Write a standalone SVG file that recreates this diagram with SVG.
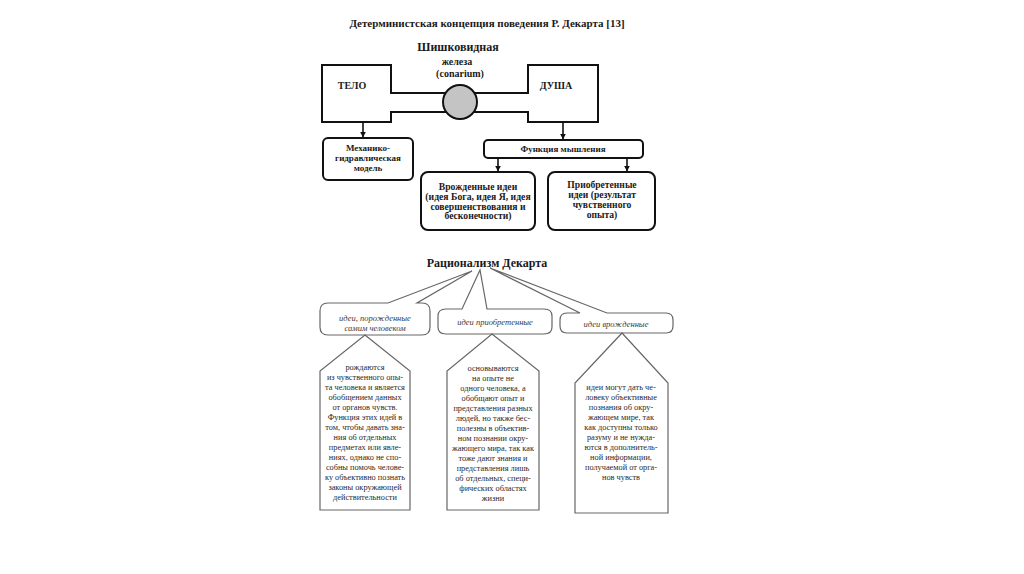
<svg xmlns="http://www.w3.org/2000/svg" width="1024" height="574" viewBox="0 0 1024 574">
<defs>
<marker id="ah" viewBox="0 0 10 10" refX="9" refY="5" markerWidth="6" markerHeight="6" orient="auto" markerUnits="userSpaceOnUse">
<path d="M0,0 L10,5 L0,10 Z" fill="#111"/>
</marker>
<style>
.b{font-family:"Liberation Serif","Times New Roman",serif;font-weight:bold;fill:#1a1a1a;text-anchor:middle}
.r{font-family:"Liberation Serif","Times New Roman",serif;fill:#2a2a2a;text-anchor:middle;font-size:8.3px}
.i{font-family:"Liberation Serif","Times New Roman",serif;font-style:italic;fill:#3a3a3a;text-anchor:middle;font-size:8.5px}
.box{fill:#fff;stroke:#111;stroke-width:2}
.con{fill:none;stroke:#111;stroke-width:1.6}
.gb{fill:#fff;stroke:#666;stroke-width:1.2}
</style>
</defs>
<rect width="1024" height="574" fill="#fff"/>

<text class="b" x="487" y="27" font-size="11">Детерминистская концепция поведения Р. Декарта [13]</text>

<g id="conarium-label">
<text class="b" x="458" y="51" font-size="12">Шишковидная</text>
<text class="b" x="457" y="65" font-size="10">железа</text>
<text class="b" x="460" y="77" font-size="10">(conarium)</text>
</g>

<g id="telo">
<path class="box" d="M446,93 L391,93 L391,65 L322,65 L322,122 L391,122 L391,112 L446,112"/>
<text class="b" x="352" y="89" font-size="10">ТЕЛО</text>
</g>
<g id="dusha">
<path class="box" d="M474,93 L528,93 L528,65 L598,65 L598,122 L528,122 L528,112 L474,112"/>
<text class="b" x="556" y="89" font-size="10">ДУША</text>
</g>
<g id="conarium">
<circle cx="460" cy="102" r="17" fill="#c4c4c4" stroke="#111" stroke-width="2"/>
</g>

<g id="mechanic">
<rect class="box" x="323" y="138" width="90" height="42" rx="5"/>
<text class="b" x="368" y="151" font-size="9">Механико-</text>
<text class="b" x="368" y="161" font-size="9">гидравлическая</text>
<text class="b" x="368" y="171" font-size="9">модель</text>
</g>
<g id="thinking">
<rect class="box" x="484" y="140" width="159" height="18" rx="4"/>
<text class="b" x="563" y="152" font-size="9">Функция мышления</text>
</g>
<g id="innate">
<rect class="box" x="421" y="172" width="114" height="58" rx="7"/>
<text class="b" x="478" y="190" font-size="9.7">Врожденные идеи</text>
<text class="b" x="478" y="200" font-size="9.7">(идея Бога, идея Я, идея</text>
<text class="b" x="478" y="209.5" font-size="9.7">совершенствования и</text>
<text class="b" x="478" y="219" font-size="9.7">бесконечности)</text>
</g>
<g id="acquired">
<rect class="box" x="548" y="172" width="107" height="58" rx="7"/>
<text class="b" x="602" y="188" font-size="9.6">Приобретенные</text>
<text class="b" x="602" y="198" font-size="9.6">идеи (результат</text>
<text class="b" x="602" y="208" font-size="9.6">чувственного</text>
<text class="b" x="602" y="218" font-size="9.6">опыта)</text>
</g>

<g id="connectors">
<line class="con" x1="363" y1="122" x2="363" y2="137" marker-end="url(#ah)"/>
<line class="con" x1="563" y1="122" x2="563" y2="139" marker-end="url(#ah)"/>
<line class="con" x1="498" y1="158" x2="498" y2="171" marker-end="url(#ah)"/>
<line class="con" x1="627" y1="158" x2="627" y2="171" marker-end="url(#ah)"/>
</g>

<text class="b" x="487" y="267" font-size="12">Рационализм Декарта</text>

<g id="bubble-self">
<path class="gb" d="M328,303 L388,303 L472,271 L417,303 L422,303 Q430,303 430,311 L430,327 Q430,335 422,335 L328,335 Q320,335 320,327 L320,311 Q320,303 328,303 Z"/>
<text class="i" x="375" y="321">идеи, порожденные</text>
<text class="i" x="375" y="331">самим человеком</text>
</g>
<g id="bubble-acquired">
<path class="gb" d="M446,309 L462,309 L480,270 L487,309 L544,309 Q552,309 552,316 L552,327 Q552,334 544,334 L446,334 Q438,334 438,327 L438,316 Q438,309 446,309 Z"/>
<text class="i" x="495" y="325">идеи приобретенные</text>
</g>
<g id="bubble-innate">
<path class="gb" d="M567,313 L580,313 L490,268 L607,313 L666,313 Q673,313 673,320 L673,326 Q673,333 666,333 L567,333 Q560,333 560,326 L560,320 Q560,313 567,313 Z"/>
<text class="i" x="616" y="327">идеи врожденные</text>
</g>

<g id="house-self">
<path class="gb" d="M365,335 L410,371 L410,510 L320,510 L320,371 Z"/>
<text class="r" x="365" y="370">рождаются</text>
<text class="r" x="365" y="380">из чувственного опы-</text>
<text class="r" x="365" y="390">та человека и является</text>
<text class="r" x="365" y="400">обобщением данных</text>
<text class="r" x="365" y="410">от органов чувств.</text>
<text class="r" x="365" y="420">Функция этих идей в</text>
<text class="r" x="365" y="430">том, чтобы давать зна-</text>
<text class="r" x="365" y="440">ния об отдельных</text>
<text class="r" x="365" y="450">предметах или явле-</text>
<text class="r" x="365" y="460">ниях, однако не спо-</text>
<text class="r" x="365" y="470">собны помочь челове-</text>
<text class="r" x="365" y="480">ку объективно познать</text>
<text class="r" x="365" y="490">законы окружающей</text>
<text class="r" x="365" y="500">действительности</text>
</g>
<g id="house-acquired">
<path class="gb" d="M492,334 L539,371 L539,510 L447,510 L447,371 Z"/>
<text class="r" x="493" y="371">основываются</text>
<text class="r" x="493" y="381">на опыте не</text>
<text class="r" x="493" y="391">одного человека, а</text>
<text class="r" x="493" y="401">обобщают опыт и</text>
<text class="r" x="493" y="411">представления разных</text>
<text class="r" x="493" y="421">людей, но также бес-</text>
<text class="r" x="493" y="431">полезны в объектив-</text>
<text class="r" x="493" y="441">ном познании окру-</text>
<text class="r" x="493" y="451">жающего мира, так как</text>
<text class="r" x="493" y="461">тоже дают знания и</text>
<text class="r" x="493" y="471">представления лишь</text>
<text class="r" x="493" y="481">об отдельных, специ-</text>
<text class="r" x="493" y="491">фических областях</text>
<text class="r" x="493" y="501">жизни</text>
</g>
<g id="house-innate">
<path class="gb" d="M622,333 L668,383 L668,513 L575,513 L575,383 Z"/>
<text class="r" x="621" y="390">идеи могут дать че-</text>
<text class="r" x="621" y="400">ловеку объективные</text>
<text class="r" x="621" y="410">познания об окру-</text>
<text class="r" x="621" y="420">жающем мире, так</text>
<text class="r" x="621" y="430">как доступны только</text>
<text class="r" x="621" y="440">разуму и не нужда-</text>
<text class="r" x="621" y="450">ются в дополнитель-</text>
<text class="r" x="621" y="460">ной информации,</text>
<text class="r" x="621" y="470">получаемой от орга-</text>
<text class="r" x="621" y="480">нов чувств</text>
</g>
</svg>
